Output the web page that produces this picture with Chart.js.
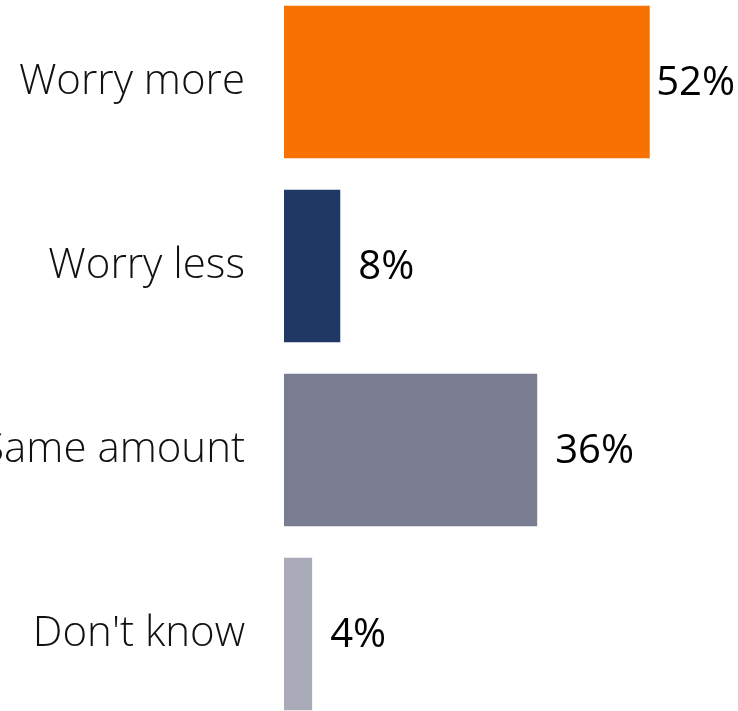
<!DOCTYPE html>
<html>
<head>
<meta charset="utf-8">
<script src="https://cdn.jsdelivr.net/npm/chart.js@4.4.0/dist/chart.umd.min.js"></script>
<style>
  html, body { margin: 0; padding: 0; background: #fff; }
  #wrap { width: 738px; height: 711px; }
</style>
</head>
<body>
<div id="wrap"><canvas id="worryChart"></canvas></div>
<script>
const categories = ['Worry more', 'Worry less', 'Same amount', "Don't know"];
const values = [52, 8, 36, 4];
const barColors = ['#F77202', '#1F3864', '#7A7C91', '#AAABB8'];

// percentage label at the end of each bar
const valueLabels = {
  id: 'valueLabels',
  afterDatasetsDraw(chart) {
    const ctx = chart.ctx;
    const meta = chart.getDatasetMeta(0);
    ctx.save();
    ctx.font = '40px "Open Sans", sans-serif';
    ctx.fillStyle = '#000';
    ctx.textBaseline = 'middle';
    ctx.textAlign = 'left';
    meta.data.forEach(function (bar, i) {
      const txt = values[i] + '%';
      const w = ctx.measureText(txt).width;
      const x = Math.min(bar.x + 18, chart.width - w - 3);
      ctx.fillText(txt, x, bar.y + 2);
    });
    ctx.restore();
  }
};

const ctx = document.getElementById('worryChart').getContext('2d');
new Chart(ctx, {
  type: 'bar',
  data: {
    labels: categories,
    datasets: [{
      data: values,
      backgroundColor: barColors,
      borderWidth: 0,
      categoryPercentage: 0.83,
      barPercentage: 1,
      clip: false
    }]
  },
  options: {
    indexAxis: 'y',
    responsive: true,
    maintainAspectRatio: false,
    animation: false,
    layout: { padding: { top: 82, bottom: 77, left: 0, right: 32 } },
    plugins: {
      legend: { display: false },
      tooltip: { enabled: false }
    },
    scales: {
      x: {
        display: false,
        min: 0,
        max: 60
      },
      y: {
        offset: false,
        grid: { display: false, drawTicks: false },
        border: { display: false },
        ticks: {
          padding: 39,
          color: '#111',
          font: { family: '"Open Sans", sans-serif', size: 42, weight: 300 }
        },
        afterFit: function (scale) { scale.width = 284; }
      }
    }
  },
  plugins: [valueLabels]
});
</script>
</body>
</html>
